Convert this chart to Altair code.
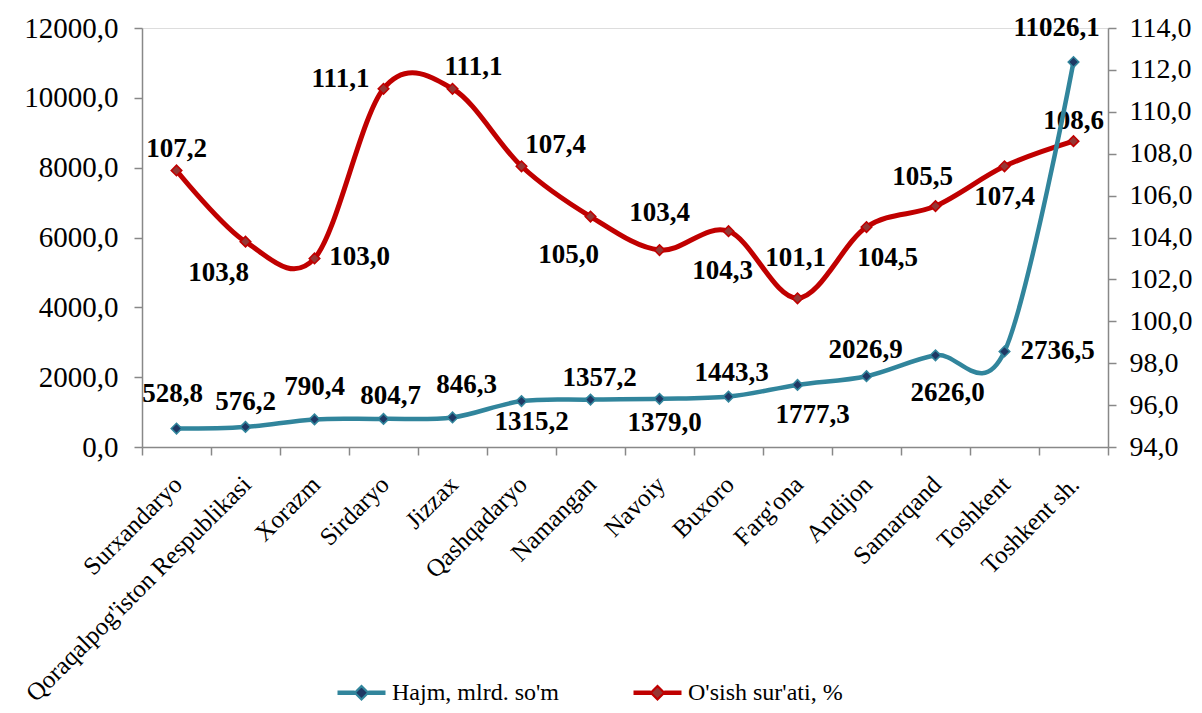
import altair as alt
import pandas as pd

categories = ["Surxandaryo", "Qoraqalpog'iston Respublikasi", "Xorazm", "Sirdaryo",
              "Jizzax", "Qashqadaryo", "Namangan", "Navoiy", "Buxoro", "Farg'ona",
              "Andijon", "Samarqand", "Toshkent", "Toshkent sh."]
hajm = [528.8, 576.2, 790.4, 804.7, 846.3, 1315.2, 1357.2, 1379.0, 1443.3, 1777.3,
        2026.9, 2626.0, 2736.5, 11026.1]
rate = [107.2, 103.8, 103.0, 111.1, 111.1, 107.4, 105.0, 103.4, 104.3, 101.1,
        104.5, 105.5, 107.4, 108.6]
series_names = ["Hajm, mlrd. so'm", "O'sish sur'ati, %"]
left_ticks = [0, 2000, 4000, 6000, 8000, 10000, 12000]
right_ticks = [94, 96, 98, 100, 102, 104, 106, 108, 110, 112, 114]

# label placement offsets (pixels), styling only
hajm_dx = [-4, 0, 0, 7, 14, 10, 9, 5, 3, 15, -1, 12, 53, -17]
hajm_dy = [-35, -25, -32, -23, -32, 21, -22, 24, -24, 30, -26, 38, 0, -34]
rate_dx = [0, -27, 45, -43, 21, 34, -22, 0, -6, -2, 21, -13, 0, 0]
rate_dy = [-21, 31, -1, -10, -22, -21, 38, -37, 40, -40, 31, -29, 31, -20]

TEAL = "#31859C"
NAVY = "#1F3864"
RED = "#C00000"
BROWN = "#953735"
FONT = "Liberation Serif"
FMT = "replace(format(datum.v, '.1f'), '.', ',')"
LEGEND_PATH = ("M-1,-0.045H-0.28M-1,0.045H-0.28M0.28,-0.045H1M0.28,0.045H1"
               "M0,-0.28L0.28,0L0,0.28L-0.28,0Z")

df_h = pd.DataFrame({"cat": categories, "v": hajm, "dx": hajm_dx, "dy": hajm_dy,
                     "series": series_names[0]})
df_r = pd.DataFrame({"cat": categories, "v": rate, "dx": rate_dx, "dy": rate_dy,
                     "series": series_names[1]})

x_enc = alt.X("cat:N", sort=categories, title=None,
              scale=alt.Scale(type="band", paddingInner=0, paddingOuter=0),
              axis=alt.Axis(labelAngle=-45, labelAlign="right", labelBaseline="middle",
                            labelFont=FONT, labelFontSize=25, labelColor="black",
                            labelPadding=25, labelOffset=1, tickBand="extent",
                            tickSize=8, tickColor="#888888", tickWidth=1.5,
                            domainColor="#888888", domainWidth=1.5, labelLimit=500))

legend = alt.Legend(title=None, orient="none", legendX=194, legendY=639,
                    direction="horizontal", labelFont=FONT, labelFontSize=24,
                    labelColor="black", labelLimit=400, symbolType=LEGEND_PATH,
                    symbolSize=2304, symbolStrokeWidth=2.2, symbolOpacity=1,
                    columnPadding=70, labelOffset=5)


def group(df, domain, ticks, orient, color, fill, width, fsize, lpad, with_legend=False):
    y_enc = alt.Y("v:Q", title=None, scale=alt.Scale(domain=domain, nice=False, zero=False),
                  axis=alt.Axis(orient=orient, values=ticks, grid=False,
                                labelExpr="replace(format(datum.value, '.1f'), '.', ',')",
                                labelFont=FONT, labelFontSize=fsize, labelColor="black",
                                labelPadding=lpad, tickSize=8, tickColor="#888888",
                                tickWidth=1.5, domainColor="#888888", domainWidth=1.5))
    base = alt.Chart(df).encode(x=x_enc, y=y_enc)
    line = base.mark_line(interpolate="cardinal", tension=0, strokeWidth=width,
                          color=color)
    pts = base.mark_point(shape="diamond", filled=True, size=110, strokeWidth=1.6,
                          opacity=1, fill=fill, stroke=color)
    txt = base.transform_calculate(label=FMT).mark_text(
        font=FONT, fontSize=27, fontWeight="bold", color="black",
        baseline="middle", align="center",
        dx=alt.ExprRef(expr="datum.dx"), dy=alt.ExprRef(expr="datum.dy")
    ).encode(text="label:N")
    layers = [line, pts, txt]
    if with_legend:
        leg = base.mark_point(filled=True, opacity=0).encode(
            stroke=alt.Stroke("series:N", legend=legend,
                              scale=alt.Scale(domain=series_names, range=[TEAL, RED])),
            fill=alt.Fill("series:N", legend=legend,
                          scale=alt.Scale(domain=series_names, range=[NAVY, BROWN])))
        layers.append(leg)
    return alt.layer(*layers)


g_rate = group(df_r, [94, 114], right_ticks, "right", RED, BROWN, 5, 28, 13)
g_hajm = group(df_h, [0, 12000], left_ticks, "left", TEAL, NAVY, 4.5, 29, 16,
               with_legend=True)

chart = alt.layer(g_rate, g_hajm).resolve_scale(y="independent").properties(
    width=966, height=419,
    autosize=alt.AutoSizeParams(type="none"),
    padding={"left": 134, "top": 20, "right": 86, "bottom": 258},
).configure_view(stroke=None).configure(background="white")

chart.save("out.html", embed_options={"renderer": "svg", "actions": False})
